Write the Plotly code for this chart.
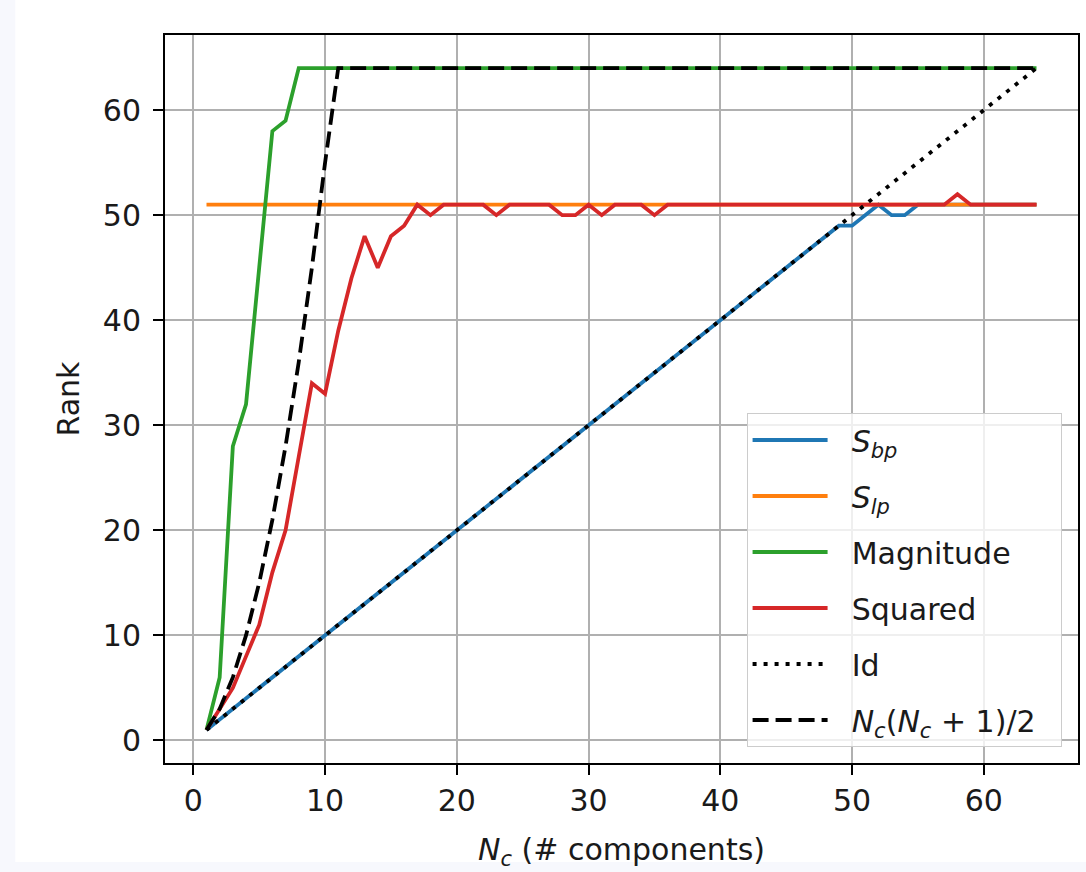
import plotly.graph_objects as go

# Number of components on the x axis
n_components = [
    1, 2, 3, 4, 5, 6, 7, 8, 9, 10, 11, 12, 13, 14, 15, 16,
    17, 18, 19, 20, 21, 22, 23, 24, 25, 26, 27, 28, 29, 30, 31, 32,
    33, 34, 35, 36, 37, 38, 39, 40, 41, 42, 43, 44, 45, 46, 47, 48,
    49, 50, 51, 52, 53, 54, 55, 56, 57, 58, 59, 60, 61, 62, 63, 64,
]

rank_s_bp = [
    1, 2, 3, 4, 5, 6, 7, 8, 9, 10, 11, 12, 13, 14, 15, 16,
    17, 18, 19, 20, 21, 22, 23, 24, 25, 26, 27, 28, 29, 30, 31, 32,
    33, 34, 35, 36, 37, 38, 39, 40, 41, 42, 43, 44, 45, 46, 47, 48,
    49, 49, 50, 51, 50, 50, 51, 51, 51, 51, 51, 51, 51, 51, 51, 51,
]

rank_s_lp = [
    51, 51, 51, 51, 51, 51, 51, 51, 51, 51, 51, 51, 51, 51, 51, 51,
    51, 51, 51, 51, 51, 51, 51, 51, 51, 51, 51, 51, 51, 51, 51, 51,
    51, 51, 51, 51, 51, 51, 51, 51, 51, 51, 51, 51, 51, 51, 51, 51,
    51, 51, 51, 51, 51, 51, 51, 51, 51, 51, 51, 51, 51, 51, 51, 51,
]

rank_magnitude = [
    1, 6, 28, 32, 45, 58, 59, 64, 64, 64, 64, 64, 64, 64, 64, 64,
    64, 64, 64, 64, 64, 64, 64, 64, 64, 64, 64, 64, 64, 64, 64, 64,
    64, 64, 64, 64, 64, 64, 64, 64, 64, 64, 64, 64, 64, 64, 64, 64,
    64, 64, 64, 64, 64, 64, 64, 64, 64, 64, 64, 64, 64, 64, 64, 64,
]

rank_squared = [
    1, 3, 5, 8, 11, 16, 20, 27, 34, 33, 39, 44, 48, 45, 48, 49,
    51, 50, 51, 51, 51, 51, 50, 51, 51, 51, 51, 50, 50, 51, 50, 51,
    51, 51, 50, 51, 51, 51, 51, 51, 51, 51, 51, 51, 51, 51, 51, 51,
    51, 51, 51, 51, 51, 51, 51, 51, 51, 52, 51, 51, 51, 51, 51, 51,
]

rank_identity = [
    1, 2, 3, 4, 5, 6, 7, 8, 9, 10, 11, 12, 13, 14, 15, 16,
    17, 18, 19, 20, 21, 22, 23, 24, 25, 26, 27, 28, 29, 30, 31, 32,
    33, 34, 35, 36, 37, 38, 39, 40, 41, 42, 43, 44, 45, 46, 47, 48,
    49, 50, 51, 52, 53, 54, 55, 56, 57, 58, 59, 60, 61, 62, 63, 64,
]

# N_c (N_c + 1) / 2, capped at the full rank of 64
rank_pairs = [
    1, 3, 6, 10, 15, 21, 28, 36, 45, 55, 64, 64, 64, 64, 64, 64,
    64, 64, 64, 64, 64, 64, 64, 64, 64, 64, 64, 64, 64, 64, 64, 64,
    64, 64, 64, 64, 64, 64, 64, 64, 64, 64, 64, 64, 64, 64, 64, 64,
    64, 64, 64, 64, 64, 64, 64, 64, 64, 64, 64, 64, 64, 64, 64, 64,
]

axis_ticks = [0, 10, 20, 30, 40, 50, 60]

FONT = "DejaVu Sans"
FS = 30
TXT = "#1a1a1a"
LW = 3.8
PAD = "&nbsp;&nbsp;"  # gap between legend swatch and label

series = [
    ("<i>S</i><sub><i>bp</i></sub>", rank_s_bp, "#1f77b4", "solid"),
    ("<i>S</i><sub><i>lp</i></sub>", rank_s_lp, "#ff7f0e", "solid"),
    ("Magnitude", rank_magnitude, "#2ca02c", "solid"),
    ("Squared", rank_squared, "#d62728", "solid"),
    ("Id", rank_identity, "black", "4px,7px"),
    ("<i>N</i><sub><i>c</i></sub>(<i>N</i><sub><i>c</i></sub> + 1)/2" + PAD,
     rank_pairs, "black", "16px,7px"),
]

fig = go.Figure()
for i, (name, ys, color, dash) in enumerate(series):
    fig.add_trace(go.Scatter(
        x=n_components, y=ys, mode="lines", name=PAD + name,
        legendgroup=f"g{i}",
        line=dict(color=color, width=LW, dash=dash),
    ))

axis_common = dict(
    showgrid=True, gridcolor="#b0b0b0", gridwidth=2,
    showline=True, linecolor="black", linewidth=2, mirror=True,
    ticks="outside", ticklen=10, tickwidth=2, tickcolor="black",
    tickfont=dict(family=FONT, size=FS, color=TXT),
    zeroline=False, tickmode="array", tickvals=axis_ticks,
)

fig.update_xaxes(
    range=[-2.15, 67.15], **axis_common,
    title=dict(text="<i>N</i><sub><i>c</i></sub> (# components)",
               font=dict(family=FONT, size=FS, color=TXT), standoff=22),
)
fig.update_yaxes(
    range=[-2.15, 67.15], **axis_common, ticklabelstandoff=6,
    title=dict(text="Rank", font=dict(family=FONT, size=FS, color=TXT),
               standoff=14),
)

fig.update_layout(
    width=1086, height=872,
    margin=dict(l=165, r=6, t=35, b=109, pad=0),
    paper_bgcolor="#f7f8fd",
    plot_bgcolor="white",
    font=dict(family=FONT, size=FS, color=TXT),
    legend=dict(
        x=0.637, y=0.022, xanchor="left", yanchor="bottom",
        bgcolor="rgba(255,255,255,0.8)", bordercolor="#cccccc", borderwidth=1,
        font=dict(family=FONT, size=FS, color=TXT),
        tracegroupgap=14, itemwidth=75,
    ),
    shapes=[dict(
        type="rect", xref="paper", yref="paper", layer="below",
        x0=-150 / 915, x1=1.01, y0=-99 / 728, y1=1.06,
        fillcolor="white", line=dict(width=0),
    )],
)

fig.write_html("out.html")
